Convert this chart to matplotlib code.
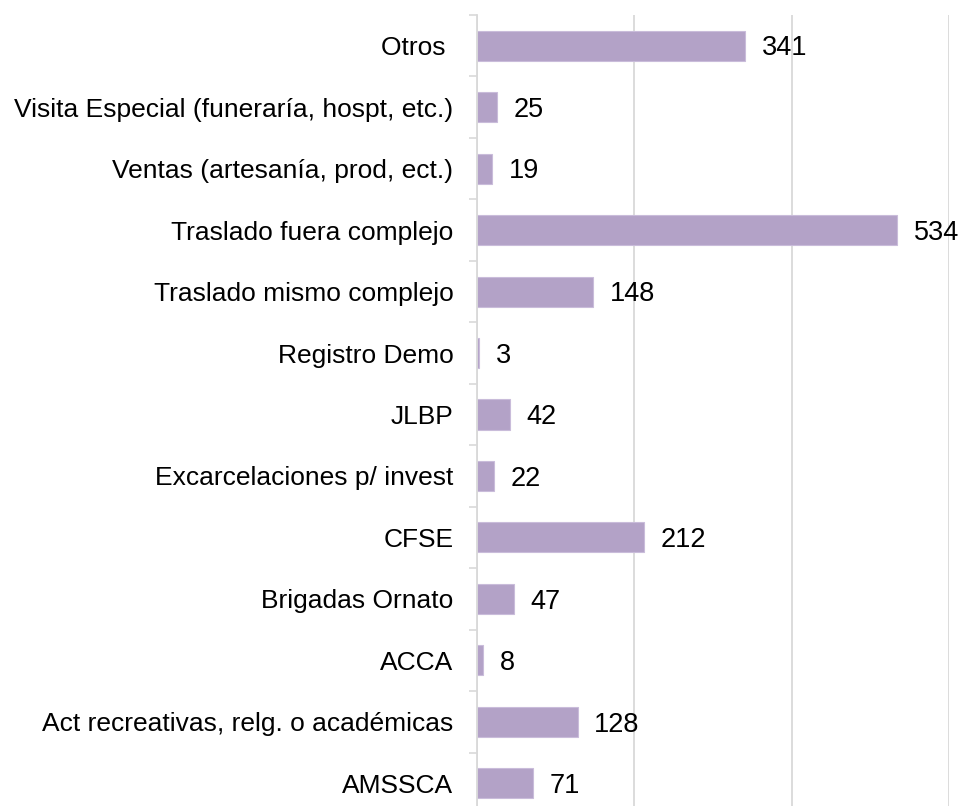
import numpy as np
import matplotlib.pyplot as plt
import matplotlib

matplotlib.rc('font', family=['Liberation Sans', 'DejaVu Sans'], size=19)

categorias = ['Otros ', 'Visita Especial (funeraría, hospt, etc.)',
              'Ventas (artesanía, prod, ect.)', 'Traslado fuera complejo',
              'Traslado mismo complejo', 'Registro Demo', 'JLBP',
              'Excarcelaciones p/ invest', 'CFSE', 'Brigadas Ornato', 'ACCA',
              'Act recreativas, relg. o académicas', 'AMSSCA']
valores = [341, 25, 19, 534, 148, 3, 42, 22, 212, 47, 8, 128, 71]
ejes_x = [0, 200, 400, 600]

gris = '#D9D9D9'
morado = '#B3A2C7'

fig = plt.figure(figsize=(9.63, 8.06), dpi=100)
ax = fig.add_axes([0.4953, -0.0099, 0.4902, 0.9913])

y = np.arange(len(categorias))
ax.barh(y, valores, height=0.49, color=morado, edgecolor='#C9BCDA', linewidth=0.8, zorder=3)
for yi, v in zip(y, valores):
    ax.annotate(str(v), (v, yi), xytext=(12, -2), textcoords='offset points',
                va='center', ha='left', fontsize=19.5)

ax.set_ylim(len(categorias) - 0.5, -0.5)
ax.set_xlim(ejes_x[0], ejes_x[-1])
ax.set_yticks(y)
ax.set_yticklabels(categorias)
ax.set_yticks(np.arange(len(categorias) + 1) - 0.5, minor=True)
ax.tick_params(axis='y', which='major', length=0, pad=17)
ax.tick_params(axis='y', which='minor', length=5.8, width=1.2, color=gris)
ax.set_xticks(ejes_x)
ax.tick_params(axis='x', length=0, labelbottom=False)
ax.grid(axis='x', color=gris, linewidth=1.3, zorder=0)

for s in ['top', 'right', 'bottom']:
    ax.spines[s].set_visible(False)
ax.spines['left'].set_color(gris)
ax.spines['left'].set_linewidth(1.3)
ax.spines['left'].set_zorder(4)

fig.savefig('out.png', dpi=100)
